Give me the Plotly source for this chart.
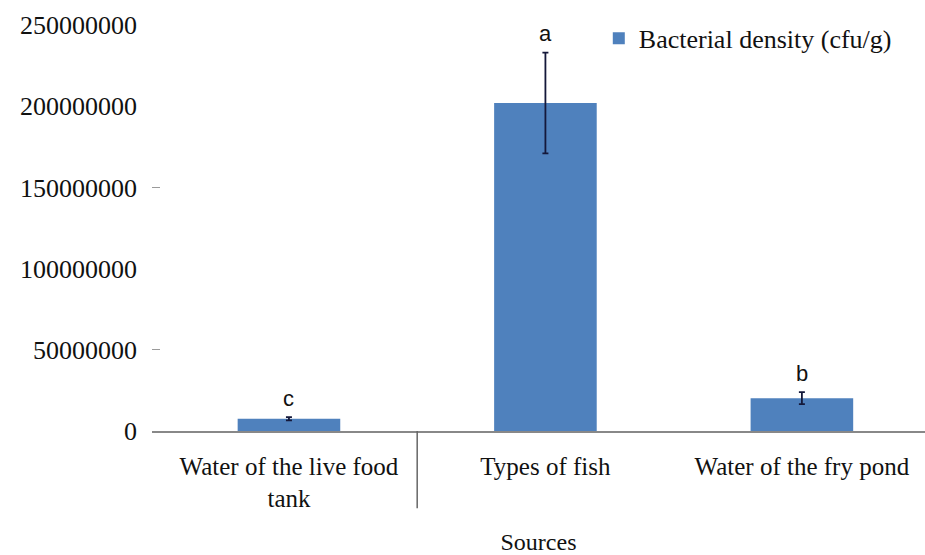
import plotly.graph_objects as go

# Bacterial density by source
sources = ["Water of the live food<br>tank", "Types of fish", "Water of the fry pond"]
density = [7500000, 202000000, 20200000]
density_err = [1000000, 31000000, 3700000]
groups = ["c", "a", "b"]
y_ticks = [0, 50000000, 100000000, 150000000, 200000000, 250000000]
minor_marks = [50000000, 150000000, 249500000]

serif = "Liberation Serif"
sans = "Liberation Sans"

fig = go.Figure()
fig.add_trace(go.Bar(
    x=sources, y=density, name="Bacterial density (cfu/g)",
    marker=dict(color="#4F81BD", line=dict(width=0)),
    width=0.4,
    error_y=dict(type="data", array=density_err, visible=True,
                 color="#14183a", thickness=1.8, width=3),
))

# significance letters above each error bar
for s, v, e, g in zip(sources, density, density_err, groups):
    fig.add_annotation(x=s, y=v + e, text=g, showarrow=False,
                       yanchor="middle", yshift=19,
                       font=dict(family=sans, size=22, color="#111111"))

# divider below the axis between the first two categories
fig.add_shape(type="line", xref="x", yref="paper", x0=0.5, x1=0.5,
              y0=0, y1=-0.19, line=dict(color="#666666", width=1.5))

fig.update_layout(
    width=925, height=555,
    margin=dict(l=152, r=0, t=25, b=124),
    paper_bgcolor="white", plot_bgcolor="white",
    bargap=0.6,
    showlegend=True,
    legend=dict(x=0.578, y=1.025, xanchor="left", yanchor="top",
                font=dict(family=serif, size=26, color="#111111"),
                bgcolor="rgba(0,0,0,0)", itemwidth=30),
    xaxis=dict(
        range=[-0.534, 2.48],
        showline=True, linecolor="#888888", linewidth=1.5,
        showgrid=False, ticks="", ticklabelstandoff=12,
        tickfont=dict(family=serif, size=25, color="#111111"),
        title=dict(text="Sources", standoff=26,
                   font=dict(family=serif, size=24, color="#111111")),
    ),
    yaxis=dict(
        range=[0, 250000000],
        tickvals=y_ticks, ticktext=[str(v) for v in y_ticks],
        showgrid=False, zeroline=False, showline=False,
        ticks="", ticklabelstandoff=14,
        tickfont=dict(family=serif, size=26, color="#111111"),
    ),
    yaxis2=dict(
        range=[0, 250000000], overlaying="y", side="left",
        tickvals=minor_marks, showticklabels=False,
        ticks="inside", ticklen=8, tickcolor="#9a9a9a", tickwidth=1.2,
        showgrid=False, zeroline=False, showline=False,
    ),
)

# invisible trace to bind the secondary axis
fig.add_trace(go.Scatter(x=[sources[0]], y=[0], yaxis="y2", mode="markers",
                         marker=dict(opacity=0), showlegend=False,
                         hoverinfo="skip"))

fig.write_html("out.html")
